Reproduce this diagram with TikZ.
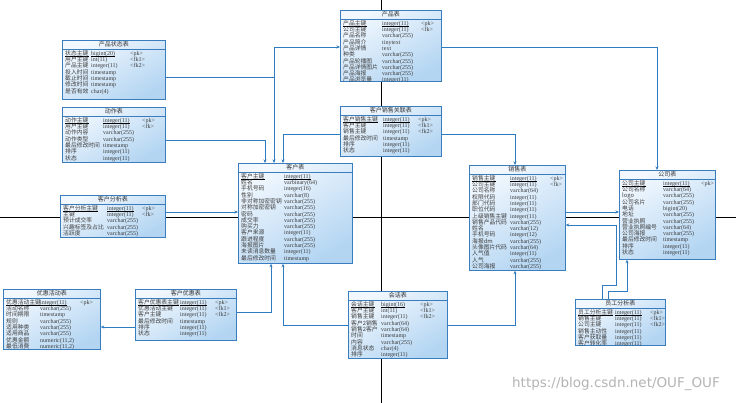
\documentclass[tikz,border=0pt]{standalone}
\usepackage{fontspec}
\newfontfamily\cjkf{Noto Sans CJK SC}
\newfontfamily\typf{Liberation Serif}
\newfontfamily\wmf{DejaVu Sans}
\usetikzlibrary{arrows.meta}
\definecolor{edge}{HTML}{3A7DBE}
\definecolor{fillb}{HTML}{B3D5F2}
\definecolor{filltop}{HTML}{F2F8FE}
\definecolor{link}{HTML}{2F7BBF}
\definecolor{txt}{HTML}{3C3C3C}
\definecolor{wmc}{HTML}{B4B4B4}
\tikzset{
  tbl/.style={draw=edge, line width=0.7pt, top color=filltop, bottom color=fillb,
    shading angle=30, anchor=north west, inner sep=0pt},
  ttl/.style={font=\cjkf\fontsize{6}{6}\selectfont, text=black!80, inner sep=0pt},
  sepline/.style={draw=edge, line width=0.6pt},
  rowname/.style={anchor=west, inner sep=0pt, font=\cjkf\fontsize{5.8}{6}\selectfont,
    text=txt, text height=4.6pt, text depth=1pt},
  rowtype/.style={anchor=west, inner sep=0pt, font=\typf\fontsize{6}{6}\selectfont,
    text=txt, text height=4.6pt, text depth=1pt},
  ul/.style={line width=0.8pt, black},
  lnk/.style={draw=link, line width=0.8pt, -{Stealth[length=3.5pt,width=3pt]}},
  axisline/.style={draw=black, line width=0.8pt},
  wm/.style={font=\wmf\fontsize{13.5}{13.5}\selectfont, text=wmc, inner sep=0pt}
}
% #1 name, #2 x, #3 y, #4 w, #5 h, #6 title, #7 type offset, #8 key offset, #9 rows
\newcommand{\ertbl}[9]{%
  \node[tbl, minimum width=#4pt, minimum height=#5pt] (#1) at (#2,#3) {};
  \node[ttl] (#1-title) at ([yshift=-4.6pt]#1.north) {#6};
  \draw[sepline] ([yshift=-9pt]#1.north west) -- ([yshift=-9pt]#1.north east);
  \begin{scope}
    \clip ([xshift=0.4pt,yshift=-0.4pt]#1.north west) rectangle ([xshift=-0.4pt,yshift=0.4pt]#1.south east);
    \foreach \n/\t/\k [count=\i] in {#9} {
      \node[rowname] (#1-n\i) at ([xshift=3pt, yshift={-13.5pt-(\i-1)*6.3pt}]#1.north west) {\n};
      \node[rowtype] (#1-t\i) at ([xshift=#7pt, yshift={-13.5pt-(\i-1)*6.3pt}]#1.north west) {\t};
      \node[rowtype] (#1-k\i) at ([xshift=#8pt, yshift={-13.5pt-(\i-1)*6.3pt}]#1.north west) {\k};
      \ifnum\i=1
        \draw[ul] (#1-n\i.south west) -- (#1-n\i.south east);
        \draw[ul] (#1-t\i.south west) -- (#1-t\i.south east);
        \setbox0\hbox{\k}%
        \ifdim\wd0>0pt
          \draw[ul] (#1-k\i.south west) -- (#1-k\i.south east);
        \fi
      \fi
    }
  \end{scope}
}
\begin{document}
\begin{tikzpicture}[x=1pt, y=-1pt]
\useasboundingbox[fill=white] (0,0) rectangle (736,403);
% background axes
\draw[axisline] (0,217) -- (736,217);
\draw[axisline] (381,0) -- (381,403);

\ertbl{pst}{62}{40}{103}{59}{产品状态表}{29}{68}{%
 状态主键/bigint(20)/<pk>, 用户主键/int(11)/<fk1>, 产品主键/integer(11)/<fk2>,
 投入时间/timestamp/{}, 截止时间/timestamp/{}, 修改时间/timestamp/{}, 是否有效/char(4)/{}}

\ertbl{prod}{340}{10}{101}{71}{产品表}{42}{81}{%
 产品主键/integer(11)/<pk>, 公司主键/integer(11)/<fk>, 产品名称/varchar(255)/{},
 产品简介/tinytext/{}, 产品详情/text/{}, 种类/varchar(255)/{}, 产品轮播图/varchar(255)/{},
 产品详情图片/varchar(255)/{}, 产品海报/varchar(255)/{}, 产品浏览量/integer(11)/{}}

\ertbl{act}{62}{107}{103}{55}{动作表}{41}{80}{%
 动作主键/integer(11)/<pk>, 用户主键/integer(11)/<fk>, 动作内容/varchar(255)/{},
 动作类型/varchar(255)/{}, 最后修改时间/timestamp/{}, 排序/integer(11)/{}, 状态/integer(11)/{}}

\ertbl{csr}{340}{106}{101}{50}{客户销售关联表}{43}{78}{%
 客户销售主键/integer(11)/<pk>, 客户主键/integer(11)/<fk1>, 销售主键/integer(11)/<fk2>,
 最后修改时间/timestamp/{}, 排序/integer(11)/{}, 状态/integer(11)/{}}

\ertbl{cust}{238}{163}{114}{100}{客户表}{46}{100}{%
 客户主键/integer(11)/{}, 姓名/varbinary(64)/{}, 手机号码/integer(16)/{}, 性别/varchar(8)/{},
 非对称加密密钥/varchar(255)/{}, 对称加密密钥/varchar(255)/{}, 密码/varchar(255)/{},
 成交率/varchar(255)/{}, 购买力/varchar(255)/{}, 客户来源/integer(11)/{},
 跟进程度/varchar(255)/{}, 海报图片/varchar(255)/{}, 未读消息数量/integer(11)/{},
 最后修改时间/timestamp/{}}

\ertbl{sale}{469}{165}{96}{105}{销售表}{41}{81}{%
 销售主键/integer(11)/<pk>, 公司主键/integer(11)/<fk>, 公司名称/varchar(64)/{},
 权限代码/integer(11)/{}, 部门代码/integer(11)/{}, 职位代码/integer(11)/{},
 上级销售主键/integer(11)/{}, 销售产品代码/varchar(255)/{}, 姓名/varchar(12)/{},
 手机号码/integer(12)/{}, 海报dm/varchar(255)/{}, 头像图片代码/varchar(64)/{},
 人气值/integer(11)/{}, 人气/varchar(255)/{}, 公司海报/varchar(255)/{}}

\ertbl{comp}{619}{170}{96}{89}{公司表}{44}{82}{%
 公司主键/integer(11)/<pk>, 公司名称/varchar(64)/{}, logo/varchar(255)/{},
 公司名片/varchar(255)/{}, 电话/bigint(20)/{}, 地址/varchar(255)/{},
 营业执照/varchar(255)/{}, 营业执照编号/varchar(64)/{}, 公司海报/varchar(255)/{},
 最后修改时间/timestamp/{}, 排序/integer(11)/{}, 状态/integer(11)/{}}

\ertbl{cana}{60}{195}{105}{42}{客户分析表}{47}{82}{%
 客户分析主键/integer(11)/<pk>, 主键/integer(11)/<fk>, 预计成交率/varchar(255)/{},
 兴趣标签及占比/varchar(255)/{}, 活跃度/varchar(255)/{}}

\ertbl{promo}{3}{289}{97}{60}{优惠活动表}{37}{77}{%
 优惠活动主键/integer(11)/<pk>, 活动名称/varchar(255)/{}, 时间期限/timestamp/{},
 规则/varchar(255)/{}, 适用种类/varchar(255)/{}, 适用商品/varchar(255)/{},
 {优惠金额/numeric(11,2)/{}}, {最低消费/numeric(11,2)/{}}}

\ertbl{cpro}{135}{289}{101}{51}{客户优惠表}{45}{80}{%
 客户优惠表主键/integer(11)/<pk>, 优惠活动主键/integer(11)/<fk1>, 客户主键/integer(11)/<fk2>,
 最后修改时间/timestamp/{}, 排序/integer(11)/{}, 状态/integer(11)/{}}

\ertbl{sess}{348}{291}{99}{67}{会话表}{33}{72}{%
 会话主键/bigint(16)/<pk>, 客户主键/int(11)/<fk1>, 销售主键/integer(11)/<fk2>,
 客户2销售/varchar(64)/{}, 销售2客户/varchar(64)/{}, 时间/timestamp/{},
 内容/varchar(255)/{}, 消息状态/char(4)/{}, 排序/integer(11)/{}}

\ertbl{eana}{575}{299}{90}{46}{员工分析表}{40}{75}{%
 员工分析主键/integer(11)/<pk>, 销售主键/integer(11)/<fk1>, 公司主键/integer(11)/<fk2>,
 销售主动性/integer(11)/{}, 客户获取量/integer(11)/{}, 客户转化率/integer(11)/{}}

% connectors (arrow points to referenced table)
\draw[lnk] ([yshift=-37pt]pst.north east) -- (274,77) -- (274,47) -- ([yshift=-37pt]prod.north west);
\draw[lnk] ([yshift=-37pt]pst.north east) -- (274,77) -- ([xshift=36pt]cust.north west);
\draw[lnk] ([yshift=-33pt]act.north east) -- (265,140) -- ([xshift=27pt]cust.north west);
\draw[lnk] ([yshift=-28pt]csr.north west) -- (283,134) -- ([xshift=45pt]cust.north west);
\draw[lnk] ([yshift=-28pt]csr.north east) -- (515,134) -- ([xshift=46pt]sale.north west);
\draw[lnk] ([yshift=-37pt]prod.north east) -- (657,47) -- ([xshift=38pt]comp.north west);
\draw[lnk] ([yshift=-17pt]cana.north east) -- ([yshift=-49pt]cust.north west);
\draw[lnk] ([yshift=-23pt]cpro.north east) -- (271,312) -- ([xshift=33pt]cust.south west);
\draw[lnk] ([yshift=-34pt]sess.north west) -- (283,325) -- ([xshift=45pt]cust.south west);
\draw[lnk] ([yshift=-34pt]sess.north east) -- (515,325) -- ([xshift=46pt]sale.south west);
\draw[lnk] ([yshift=-38pt]cpro.north west) -- ([yshift=-38pt]promo.north east);
\draw[lnk] ([yshift=-47pt]sale.north east) -- ([yshift=-42pt]comp.north west);
\draw[lnk] ([xshift=27pt]eana.north west) -- (602,285) -- (616,285) -- (616,225) -- ([yshift=-60pt]sale.north east);
\draw[lnk] ([xshift=33pt]eana.north west) -- (608,291) -- (627,291) -- ([xshift=8pt]comp.south west);

\node[wm] (wm) at (616,384) {https://blog.csdn.net/OUF\_OUF};
\end{tikzpicture}
\end{document}
